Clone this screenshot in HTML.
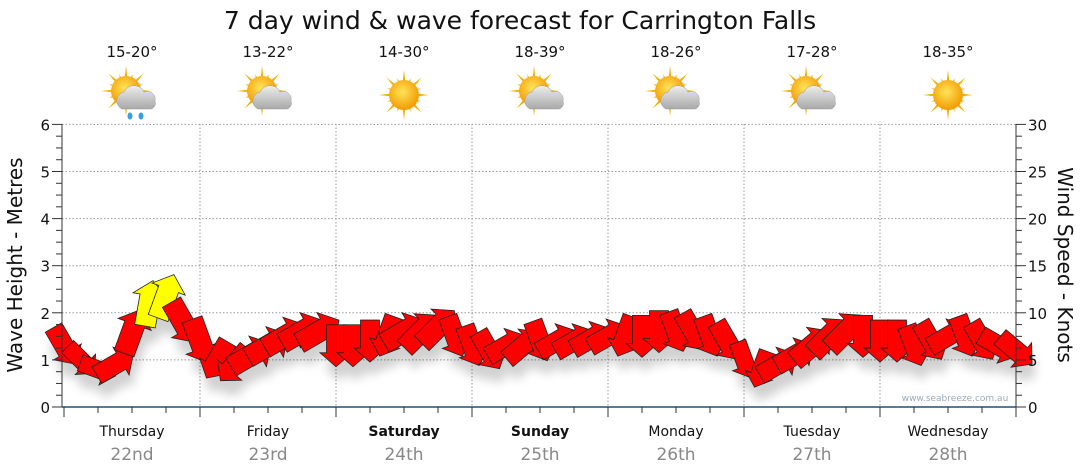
<!DOCTYPE html>
<html><head><meta charset="utf-8">
<style>
body{margin:0;background:#fff;}
svg{display:block;font-family:"DejaVu Sans","Liberation Sans",sans-serif;}
</style></head>
<body>
<svg id="chart" width="1080" height="475" viewBox="0 0 1080 475">
<defs>
<filter id="sh" x="-50%" y="-50%" width="200%" height="200%"><feGaussianBlur stdDeviation="5"/></filter>
<radialGradient id="sun" cx="0.45" cy="0.4" r="0.6"><stop offset="0" stop-color="#ffe45a"/><stop offset="1" stop-color="#f29a00"/></radialGradient>
<linearGradient id="cloud" x1="0" y1="0" x2="0" y2="1"><stop offset="0" stop-color="#eee"/><stop offset="1" stop-color="#a8a8a8"/></linearGradient>
</defs>
<text x="520" y="29" text-anchor="middle" font-size="25" fill="#111">7 day wind &amp; wave forecast for Carrington Falls</text>
<g id="grid"></g>
<g id="shadows" filter="url(#sh)" opacity="0.18"></g>
<g id="arrows"></g>
<g id="axes"></g>
<text x="955" y="401" text-anchor="middle" font-size="9" fill="#9ab">www.seabreeze.com.au</text>
<text transform="translate(22,265) rotate(-90)" text-anchor="middle" font-size="20" fill="#111">Wave Height - Metres</text>
<text transform="translate(1058,265) rotate(90)" text-anchor="middle" font-size="20" fill="#111">Wind Speed - Knots</text>
</svg>
<script>
const days=["Thursday","Friday","Saturday","Sunday","Monday","Tuesday","Wednesday"];
const dates=["22nd","23rd","24th","25th","26th","27th","28th"];
const temps=["15-20°","13-22°","14-30°","18-39°","18-26°","17-28°","18-35°"];
const icons=["rain","cloud","sun","cloud","cloud","cloud","sun"];
const leftTicks=[0,1,2,3,4,5,6];
const rightTicks=[0,5,10,15,20,25,30];
const waveHeights=[1.3,1.0,0.8,0.9,1.6,2.2,2.35,1.8,
1.4,1.0,0.9,1.1,1.3,1.5,1.6,1.6,
1.3,1.3,1.4,1.5,1.6,1.6,1.7,1.5,
1.3,1.2,1.3,1.3,1.4,1.4,1.4,1.45,
1.5,1.5,1.5,1.6,1.6,1.6,1.5,1.4,
1.0,0.8,0.9,1.1,1.3,1.5,1.6,1.5,
1.4,1.4,1.3,1.4,1.5,1.5,1.4,1.3,1.2];
const windDir=[150,135,110,60,20,10,20,150,
160,210,220,60,60,60,60,60,
180,180,180,200,60,45,45,160,
160,150,60,50,160,60,60,60,
60,200,180,180,160,150,160,150,
160,200,60,60,50,45,45,180,
180,180,160,150,60,160,150,120,130];
const windSpeed=[10,9,9,10,12,15,15,12,
11,10,10,11,11,11,11,11,
10,10,10,10,11,11,11,10,
10,10,10,10,10,10,10,10,
10,10,10,10,10,10,10,10,
9,9,10,10,11,11,11,10,
10,10,10,10,10,10,10,10,10];
const X0=64,DW=136,Y0=407,YS=47.1,L=62,R=1016;
const ns="http://www.w3.org/2000/svg";
function el(t,a,p){const e=document.createElementNS(ns,t);for(const k in a)e.setAttribute(k,a[k]);p.appendChild(e);return e;}
const yW=v=>Y0-v*YS, yK=v=>Y0-v*(6*YS/30), xT=i=>X0+i*DW/8;
const grid=document.getElementById('grid'),axes=document.getElementById('axes');
leftTicks.forEach(v=>{if(v>0){const g=el('line',{x1:L,x2:R,y1:yW(v),y2:yW(v),stroke:'#999','stroke-dasharray':'1.5,2'},grid);}
const t=el('text',{x:50,y:yW(v)+6,'text-anchor':'end','font-size':15,fill:'#111'},axes);t.textContent=v;
});
rightTicks.forEach(v=>{const t=el('text',{x:1028,y:yK(v)+6,'font-size':15,fill:'#111'},axes);t.textContent=v;
});
for(let v=0;v<=6.001;v+=0.25){el('line',{x1:v%1==0?52:56,x2:L,y1:yW(v),y2:yW(v),stroke:'#333'},axes);}
for(let v=0;v<=30;v+=1.25){el('line',{x1:R,x2:v%5==0?1026:1022,y1:yK(v),y2:yK(v),stroke:'#333'},axes);}
el('line',{x1:L,x2:L,y1:124,y2:Y0,stroke:'#333'},axes);
el('line',{x1:R,x2:R,y1:124,y2:Y0,stroke:'#333'},axes);
el('line',{x1:L,x2:R,y1:Y0,y2:Y0,stroke:'#1a5276','stroke-width':1.5},axes);
for(let i=0;i<=28;i++){const x=X0+i*DW/4;el('line',{x1:x,x2:x,y1:Y0,y2:Y0+(i%4==0?10:6),stroke:'#333'},axes);}
days.forEach((d,i)=>{const cx=X0+i*DW+DW/2;
if(i>0){const g=el('line',{x1:X0+i*DW,x2:X0+i*DW,y1:124,y2:Y0,stroke:'#999','stroke-dasharray':'1.5,2'},grid);}
const t=el('text',{x:cx,y:436,'text-anchor':'middle','font-size':14,fill:'#111','font-weight':(i==2||i==3)?'bold':'normal'},axes);t.textContent=d;

const t2=el('text',{x:cx,y:460,'text-anchor':'middle','font-size':17,fill:'#888'},axes);t2.textContent=dates[i];

const t3=el('text',{x:cx,y:57,'text-anchor':'middle','font-size':15,fill:'#111'},axes);t3.textContent=temps[i];

const ig=el('g',{transform:`translate(${cx},95)`},axes);

const sx=icons[i]=='sun'?0:-6,sy=icons[i]=='sun'?0:-4;
for(let k=0;k<16;k++){const a=k*Math.PI/8,r=k%2?18:25;el('polygon',{points:`${sx+Math.cos(a-0.15)*11},${sy+Math.sin(a-0.15)*11} ${sx+Math.cos(a)*r},${sy+Math.sin(a)*r} ${sx+Math.cos(a+0.15)*11},${sy+Math.sin(a+0.15)*11}`,fill:'#f5b000'},ig);}
el('circle',{cx:sx,cy:sy,r:15,fill:'url(#sun)'},ig);
if(icons[i]!='sun'){el('path',{d:'M-10,14 a9,9 0 0 1 2,-17 a11,11 0 0 1 20,0 a8,8 0 0 1 11,9 a6,6 0 0 1 -4,8 z',fill:'url(#cloud)',stroke:'#999','stroke-width':0.5},ig);}
if(icons[i]=='rain'){el('ellipse',{cx:-2,cy:21,rx:2.5,ry:3.5,fill:'#3aa0e0'},ig);el('ellipse',{cx:9,cy:21,rx:2.5,ry:3.5,fill:'#3aa0e0'},ig);}
});
const ag=document.getElementById('arrows'),sg=document.getElementById('shadows');
waveHeights.forEach((h,i)=>{const x=xT(i),y=yW(h),s=Math.min(windSpeed[i],11)/10;
const w=19*s,len=21*s,hw=16*s,hl=14*s;
const pts=`${-w/2},${len} ${-w/2},${-len+hl} ${-hw},${-len+hl} 0,${-len} ${hw},${-len+hl} ${w/2},${-len+hl} ${w/2},${len}`;
el('polygon',{points:pts,transform:`translate(${x+3},${y+14}) rotate(${windDir[i]})`,fill:'#000'},sg);
const p=el('polygon',{points:pts,transform:`translate(${x},${y}) rotate(${windDir[i]})`,fill:windSpeed[i]>=15?'#ffff00':'#ff0000',stroke:'#222','stroke-width':0.8},ag);


});
</script>
</body></html>
